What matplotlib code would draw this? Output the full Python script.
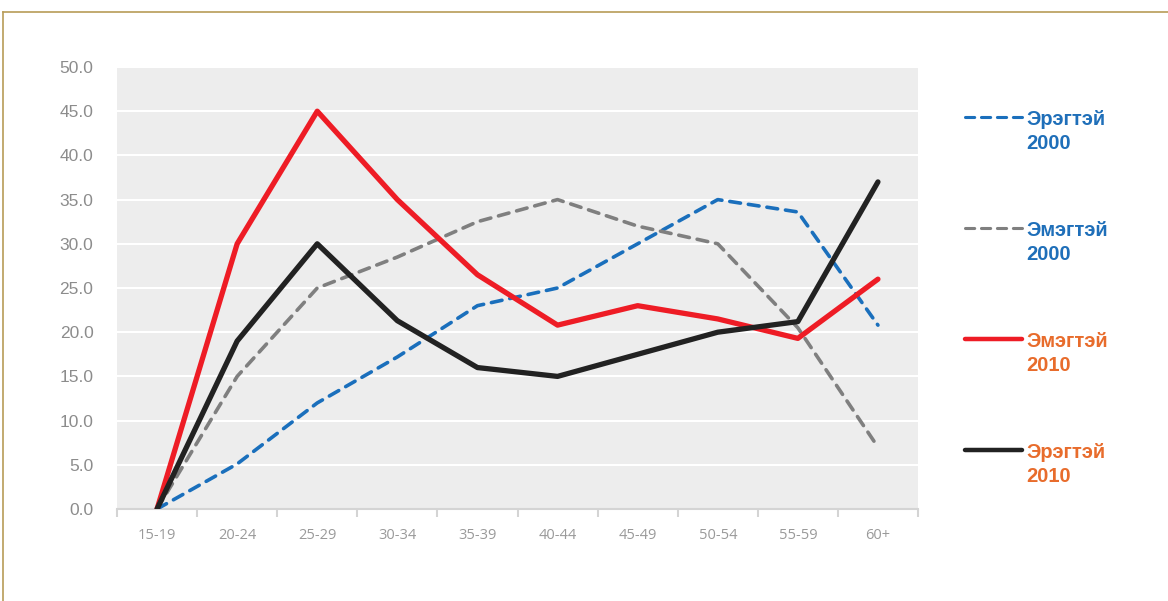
import matplotlib.pyplot as plt
from matplotlib.lines import Line2D

# age groups and shares (%)
age_groups = ['15-19', '20-24', '25-29', '30-34', '35-39', '40-44', '45-49', '50-54', '55-59', '60+']
male_2000 = [0, 5.1, 12, 17.2, 23, 25, 30, 35, 33.6, 20.8]
female_2000 = [0, 15, 25, 28.5, 32.5, 35, 32, 30, 20.5, 7.0]
female_2010 = [0, 30, 45, 35, 26.5, 20.8, 23, 21.5, 19.3, 26]
male_2010 = [0, 19, 30, 21.3, 16, 15, 17.5, 20, 21.2, 37]
yticks = [0, 5, 10, 15, 20, 25, 30, 35, 40, 45, 50]

BLUE = '#1a6fbc'
GRAY = '#7f7f7f'
RED = '#ee1c25'
BLACK = '#222222'
TXT_BLUE = '#1f6fb9'
TXT_ORANGE = '#e86c2c'

W, H = 1168, 601
fig = plt.figure(figsize=(W / 100, H / 100), dpi=100)
ax = fig.add_axes([117 / W, 1 - 509 / H, (918 - 117) / W, (509 - 67) / H])
ax.set_facecolor('#ededed')

x = list(range(len(age_groups)))
series = [
    (male_2000, BLUE, '--', 2.6, ('Эрэгтэй', '2000'), TXT_BLUE),
    (female_2000, GRAY, '--', 2.6, ('Эмэгтэй', '2000'), TXT_BLUE),
    (female_2010, RED, '-', 3.8, ('Эмэгтэй', '2010'), TXT_ORANGE),
    (male_2010, BLACK, '-', 3.8, ('Эрэгтэй', '2010'), TXT_ORANGE),
]
for vals, col, ls, lw, lab, tc in series:
    ax.plot(x, vals, color=col, linestyle=ls, linewidth=lw,
            dashes=(3, 2.2) if ls == '--' else (None, None),
            dash_capstyle='round', solid_capstyle='round', zorder=3)

ax.set_xlim(-0.5, len(age_groups) - 0.5)
ax.set_ylim(0, 50)
ax.set_yticks(yticks)
ax.set_yticklabels(['%.1f' % v for v in yticks], fontsize=12.5,
                   color='#8c8c8c', family='Liberation Sans')
ax.set_xticks(x)
ax.set_xticklabels(age_groups, fontsize=10.5, color='#9a9a9a', family='Open Sans')
ax.set_xticks([i - 0.5 for i in range(len(age_groups) + 1)], minor=True)
ax.tick_params(axis='x', which='major', length=0, pad=14)
ax.tick_params(axis='x', which='minor', length=6, color='#d4d4d4', width=1.5)
ax.tick_params(axis='y', length=0, pad=17)
ax.grid(axis='y', color='white', linewidth=1.5, zorder=1)
ax.set_axisbelow(True)
for s in ['top', 'right', 'left']:
    ax.spines[s].set_visible(False)
ax.spines['bottom'].set_color('#d4d4d4')
ax.spines['bottom'].set_linewidth(1.5)

# legend drawn on the right
leg_y = [117, 228, 339, 450]
for (vals, col, ls, lw, lab, tc), yy in zip(series, leg_y):
    ln = Line2D([965 / W, 1022 / W], [1 - yy / H, 1 - yy / H], transform=fig.transFigure,
                color=col, linestyle=ls, linewidth=lw * 0.85,
                dashes=(3, 2.2) if ls == '--' else (None, None),
                dash_capstyle='round', solid_capstyle='round')
    fig.add_artist(ln)
    for k, part in enumerate(lab):
        fig.text(1026 / W, 1 - (yy + 8 + 24 * k) / H, part, color=tc, fontsize=14.5,
                 fontweight='bold', family='Liberation Sans', va='baseline', ha='left')

# gold frame
frame_col = '#b89c58'
fig.add_artist(Line2D([3 / W, 1], [1 - 12 / H, 1 - 12 / H], transform=fig.transFigure,
                      color=frame_col, linewidth=1.2))
fig.add_artist(Line2D([3 / W, 3 / W], [0, 1 - 12 / H], transform=fig.transFigure,
                      color=frame_col, linewidth=1.2))

fig.savefig('out.png', dpi=100)
